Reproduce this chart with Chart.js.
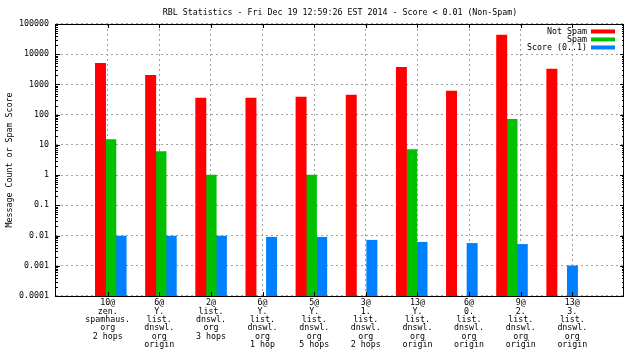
<!DOCTYPE html>
<html>
<head>
<meta charset="utf-8">
<script src="https://cdn.jsdelivr.net/npm/chart.js@4/dist/chart.umd.min.js"></script>
<style>
  html, body { margin: 0; padding: 0; background: #fff; }
  canvas { display: block; }
</style>
</head>
<body>
<canvas id="c" width="640" height="360"></canvas>
<script>
// ---- data ----
const titleText = 'RBL Statistics - Fri Dec 19 12:59:26 EST 2014 - Score < 0.01 (Non-Spam)';
const yTitle = 'Message Count or Spam Score';
const categories = [
  ['10@', 'zen.', 'spamhaus.', 'org', '2 hops'],
  ['6@', 'Y.', 'list.', 'dnswl.', 'org', 'origin'],
  ['2@', 'list.', 'dnswl.', 'org', '3 hops'],
  ['6@', 'Y.', 'list.', 'dnswl.', 'org', '1 hop'],
  ['5@', 'Y.', 'list.', 'dnswl.', 'org', '5 hops'],
  ['3@', '1.', 'list.', 'dnswl.', 'org', '2 hops'],
  ['13@', 'Y.', 'list.', 'dnswl.', 'org', 'origin'],
  ['6@', '0.', 'list.', 'dnswl.', 'org', 'origin'],
  ['9@', '2.', 'list.', 'dnswl.', 'org', 'origin'],
  ['13@', '3.', 'list.', 'dnswl.', 'org', 'origin']
];
const notSpam = [5000, 2000, 350, 350, 380, 440, 3700, 600, 43000, 3200];
const spam    = [15, 6, 1, null, 1, null, 7, null, 70, null];
const score   = [0.0096, 0.0096, 0.0096, 0.0088, 0.0088, 0.007, 0.006, 0.0055, 0.0051, 0.001];
const seriesNames = ['Not Spam', 'Spam', 'Score (0..1)'];
const yTickValues = [0.0001, 0.001, 0.01, 0.1, 1, 10, 100, 1000, 10000, 100000];
const yTickLabels = ['0.0001', '0.001', '0.01', '0.1', '1', '10', '100', '1000', '10000', '100000'];

// ---- styles ----
const FONT = "'DejaVu Sans Mono', 'Liberation Mono', monospace";
const FS = 8.3;
const colors = ['#ff0000', '#00c000', '#0080ff'];
const gridColor = '#a0a0a0';

Chart.defaults.font.family = FONT;
Chart.defaults.font.size = FS;
Chart.defaults.color = '#000';

const toXY = arr => arr.map((v, i) => ({ x: i, y: v }));

const framePlugin = {
  id: 'frame',
  afterDatasetsDraw(chart) {
    const { ctx, chartArea: a, scales } = chart;
    const y = scales.y, x = scales.x;
    ctx.save();
    ctx.strokeStyle = '#000';
    ctx.lineWidth = 1;
    ctx.beginPath();
    // y ticks (inward, both sides)
    for (let e = -4; e <= 5; e++) {
      for (let m = 1; m <= 9; m++) {
        const v = m * Math.pow(10, e);
        if (v > 100000 * 1.0001) break;
        const py = Math.round(y.getPixelForValue(v)) + 0.5;
        const len = m === 1 ? 4 : 2;
        ctx.moveTo(a.left, py); ctx.lineTo(a.left + len, py);
        ctx.moveTo(a.right, py); ctx.lineTo(a.right - len, py);
      }
    }
    // x ticks (inward, bottom and top)
    categories.forEach((c, i) => {
      const px = Math.round(x.getPixelForValue(i)) + 0.5;
      ctx.moveTo(px, a.bottom); ctx.lineTo(px, a.bottom - 4);
      ctx.moveTo(px, a.top); ctx.lineTo(px, a.top + 4);
    });
    ctx.stroke();
    ctx.strokeRect(Math.round(a.left) - 0.5, Math.round(a.top) + 0.5,
                   Math.round(a.right - a.left), Math.round(a.bottom - a.top));
    // legend (gnuplot style: text right-aligned, swatch on the right)
    ctx.font = FS + 'px ' + FONT;
    ctx.textAlign = 'right';
    ctx.textBaseline = 'middle';
    chart.data.datasets.forEach((ds, i) => {
      const cy = a.top + 7.5 + i * 8;
      ctx.fillStyle = '#000';
      ctx.fillText(ds.label, a.right - 37, cy);
      ctx.fillStyle = ds.backgroundColor;
      ctx.fillRect(a.right - 33, cy - 2, 24, 4);
    });
    ctx.restore();
  }
};

new Chart(document.getElementById('c'), {
  type: 'bar',
  data: {
    datasets: [
      { label: seriesNames[0], data: toXY(notSpam), backgroundColor: colors[0], xAxisID: 'xb' },
      { label: seriesNames[1], data: toXY(spam), backgroundColor: colors[1], xAxisID: 'xb' },
      { label: seriesNames[2], data: toXY(score), backgroundColor: colors[2], xAxisID: 'xb' }
    ]
  },
  options: {
    responsive: false,
    animation: false,
    devicePixelRatio: 1,
    layout: { padding: { left: 0, right: 16, top: 0, bottom: 0 } },
    datasets: { bar: { barThickness: 10.3, borderWidth: 0 } },
    plugins: {
      legend: { display: false },
      tooltip: { enabled: false },
      title: {
        display: true, text: titleText, fullSize: false, color: '#000',
        font: { family: FONT, size: FS, weight: 'normal' },
        padding: { top: 8, bottom: 6 }
      }
    },
    scales: {
      x: {
        type: 'linear', position: 'bottom', min: -1, max: 10, offset: false,
        afterBuildTicks: s => { s.ticks = categories.map((c, i) => ({ value: i })); },
        afterFit: s => { s.height = 64; },
        ticks: {
          autoSkip: false, maxRotation: 0, minRotation: 0, padding: 3,
          font: { family: FONT, size: FS, lineHeight: 1.0 },
          callback: (v, i) => categories[i]
        },
        grid: { color: gridColor, drawTicks: false, lineWidth: 1, offset: false },
        border: { display: false, dash: [2, 3] }
      },
      xb: {
        type: 'linear', display: false, min: -1.0927, max: 10.2333, offset: false,
        grid: { offset: false },
        afterBuildTicks: s => { s.ticks = categories.map((c, i) => ({ value: i })); }
      },
      y: {
        type: 'logarithmic', position: 'left', min: 0.0001, max: 100000,
        afterBuildTicks: s => { s.ticks = yTickValues.map(v => ({ value: v })); },
        afterFit: s => { s.width = 56; },
        ticks: {
          autoSkip: false, padding: 7,
          font: { family: FONT, size: FS },
          callback: (v, i) => yTickLabels[i]
        },
        title: {
          display: true, text: yTitle, color: '#000',
          font: { family: FONT, size: FS },
          padding: { top: 5, bottom: 0 }
        },
        grid: { color: gridColor, drawTicks: false, lineWidth: 1 },
        border: { display: false, dash: [2, 3] }
      }
    }
  },
  plugins: [framePlugin]
});
</script>
</body>
</html>
